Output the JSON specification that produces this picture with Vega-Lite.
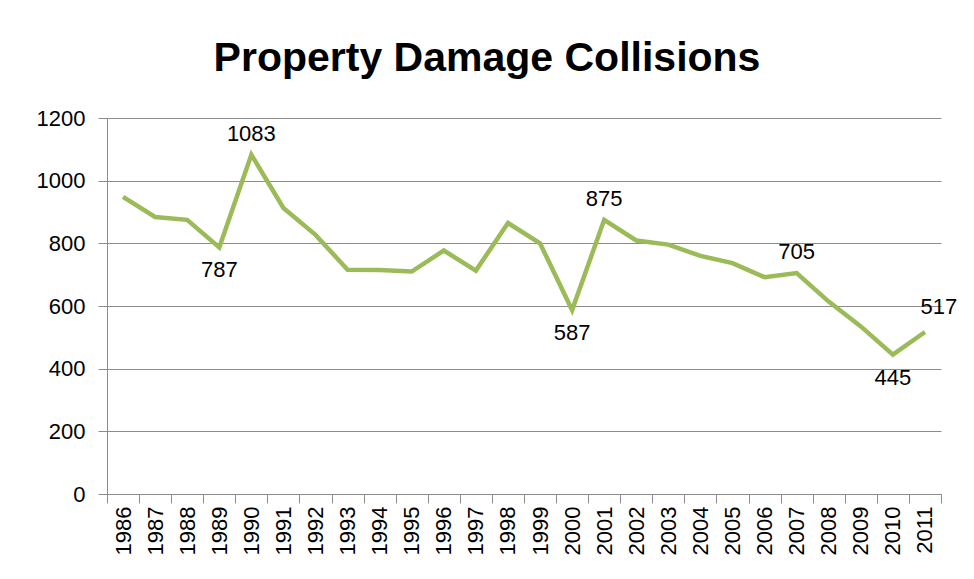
{
  "$schema": "https://vega.github.io/schema/vega-lite/v6.json",
  "width": 834,
  "height": 376,
  "autosize": "none",
  "padding": {"left": 107, "top": 118, "right": 33, "bottom": 85},
  "background": "white",
  "title": {
    "text": "Property Damage Collisions",
    "font": "Liberation Sans",
    "fontSize": 41,
    "fontWeight": "bold",
    "color": "black",
    "anchor": "middle",
    "frame": "group",
    "dx": -37,
    "offset": 27
  },
  "config": {
    "view": {"stroke": null},
    "font": "Liberation Sans"
  },
  "data": {
    "values": [
      {"year": "1986", "value": 948},
      {"year": "1987", "value": 884},
      {"year": "1988", "value": 875},
      {"year": "1989", "value": 787},
      {"year": "1990", "value": 1083},
      {"year": "1991", "value": 913},
      {"year": "1992", "value": 827},
      {"year": "1993", "value": 716},
      {"year": "1994", "value": 715},
      {"year": "1995", "value": 710},
      {"year": "1996", "value": 777},
      {"year": "1997", "value": 713},
      {"year": "1998", "value": 865},
      {"year": "1999", "value": 800},
      {"year": "2000", "value": 587},
      {"year": "2001", "value": 875},
      {"year": "2002", "value": 809},
      {"year": "2003", "value": 796},
      {"year": "2004", "value": 760},
      {"year": "2005", "value": 737},
      {"year": "2006", "value": 692},
      {"year": "2007", "value": 705},
      {"year": "2008", "value": 614},
      {"year": "2009", "value": 535},
      {"year": "2010", "value": 445},
      {"year": "2011", "value": 517}
    ]
  },
  "encoding": {
    "x": {
      "field": "year",
      "type": "ordinal",
      "bandPosition": 0.5,
      "scale": {"type": "band", "paddingInner": 0, "paddingOuter": 0},
      "axis": {
        "title": null,
        "labelAngle": -90,
        "labelAlign": "right",
        "labelBaseline": "middle",
        "labelFontSize": 22,
        "labelColor": "black",
        "labelPadding": 3,
        "tickBand": "extent",
        "tickSize": 9,
        "tickColor": "#8c8c8c",
        "domainColor": "#8c8c8c",
        "grid": false
      }
    },
    "y": {
      "field": "value",
      "type": "quantitative",
      "scale": {"domain": [0, 1200], "nice": false},
      "axis": {
        "title": null,
        "values": [0, 200, 400, 600, 800, 1000, 1200],
        "format": "d",
        "labelFontSize": 22,
        "labelColor": "black",
        "labelPadding": 13,
        "tickSize": 9,
        "tickColor": "#8c8c8c",
        "domainColor": "#8c8c8c",
        "gridColor": "#8c8c8c",
        "gridOpacity": 1
      }
    }
  },
  "layer": [
    {
      "mark": {"type": "line", "color": "#9BBB59", "strokeWidth": 4.5, "strokeJoin": "miter"}
    },
    {
      "transform": [{"filter": {"field": "year", "oneOf": ["1990", "2001", "2007"]}}],
      "mark": {"type": "text", "fontSize": 22, "color": "black", "dy": -21, "baseline": "middle"},
      "encoding": {"text": {"field": "value", "type": "quantitative"}}
    },
    {
      "transform": [{"filter": {"field": "year", "oneOf": ["1989", "2000", "2010"]}}],
      "mark": {"type": "text", "fontSize": 22, "color": "black", "dy": 23, "baseline": "middle"},
      "encoding": {"text": {"field": "value", "type": "quantitative"}}
    },
    {
      "transform": [{"filter": {"field": "year", "oneOf": ["2011"]}}],
      "mark": {"type": "text", "fontSize": 22, "color": "black", "dy": -25, "dx": 14, "baseline": "middle"},
      "encoding": {"text": {"field": "value", "type": "quantitative"}}
    }
  ]
}
